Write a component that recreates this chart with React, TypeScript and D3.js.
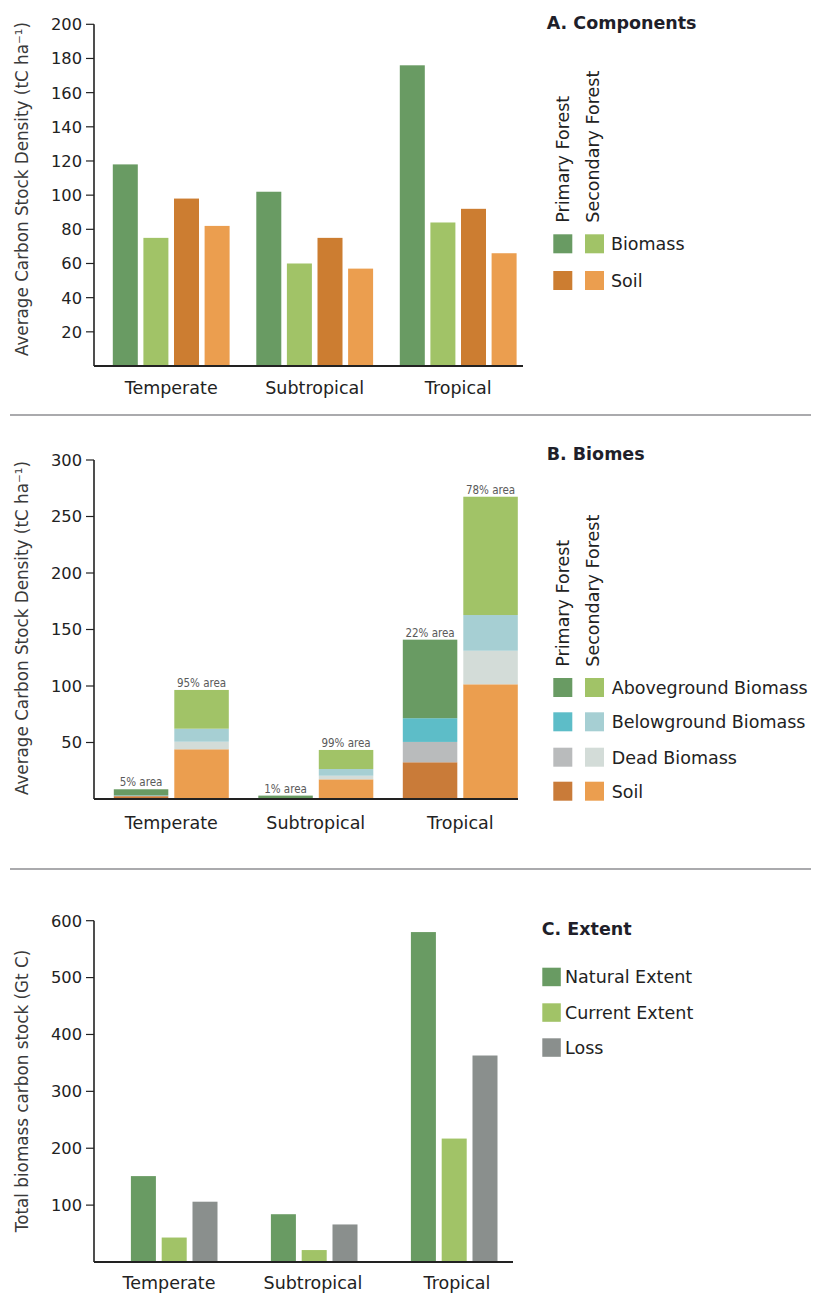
import React from "react";
import * as d3 from "d3";

const categories = ["Temperate", "Subtropical", "Tropical"];

// Panel A: components (tC/ha)
const aSeries = ["primaryBiomass", "secondaryBiomass", "primarySoil", "secondarySoil"];
const aPrimaryBiomass = [118, 102, 176];
const aSecondaryBiomass = [75, 60, 84];
const aPrimarySoil = [98, 75, 92];
const aSecondarySoil = [82, 57, 66];
const aTicks = [20, 40, 60, 80, 100, 120, 140, 160, 180, 200];

// Panel B: biomes stacked (tC/ha)
const bSeries = ["primary", "secondary"];
const bLayers = ["soil", "dead", "below", "above"];
const bPrimarySoil = [2.5, 0.3, 32.5];
const bPrimaryDead = [0.3, 0.1, 18];
const bPrimaryBelow = [0.4, 0.1, 21];
const bPrimaryAbove = [5.4, 2.5, 69.5];
const bSecondarySoil = [44, 17.4, 101.5];
const bSecondaryDead = [6.7, 3.2, 29.7];
const bSecondaryBelow = [11.5, 5.9, 31.6];
const bSecondaryAbove = [34.3, 16.9, 104.7];
const bPrimaryArea = ["5% area", "1% area", "22% area"];
const bSecondaryArea = ["95% area", "99% area", "78% area"];
const bTicks = [50, 100, 150, 200, 250, 300];

// Panel C: extent (Gt C)
const cSeries = ["natural", "current", "loss"];
const cNatural = [151, 84, 580];
const cCurrent = [43, 21, 217];
const cLoss = [106, 66, 363];
const cTicks = [100, 200, 300, 400, 500, 600];

const FONT = "'DejaVu Sans', sans-serif";
const C = {
  darkGreen: "#699b63",
  lightGreen: "#a1c367",
  darkOrange: "#cc7d31",
  lightOrange: "#eb9e4f",
  teal: "#5dbdc8",
  lightTeal: "#a6cfd3",
  grayDead: "#b9bbbc",
  lightDead: "#d3dcd8",
  soilB: "#c97b39",
  loss: "#8a8f8d",
  text: "#222",
};

const aColors: Record<string, string> = {
  primaryBiomass: C.darkGreen,
  secondaryBiomass: C.lightGreen,
  primarySoil: C.darkOrange,
  secondarySoil: C.lightOrange,
};
const bColors: Record<string, Record<string, string>> = {
  primary: { soil: C.soilB, dead: C.grayDead, below: C.teal, above: C.darkGreen },
  secondary: { soil: C.lightOrange, dead: C.lightDead, below: C.lightTeal, above: C.lightGreen },
};
const cColors: Record<string, string> = { natural: C.darkGreen, current: C.lightGreen, loss: C.loss };

function YAxis({ y, ticks, x0, top, bottom }: any) {
  return (
    <g>
      <line x1={x0} x2={x0} y1={top} y2={bottom} stroke={C.text} strokeWidth={1.6} />
      {ticks.map((t: number) => (
        <g key={t}>
          <line x1={x0 - 8} x2={x0} y1={y(t)} y2={y(t)} stroke={C.text} strokeWidth={1.2} />
          <text x={x0 - 12} y={y(t)} dy="0.36em" textAnchor="end" fontSize={16.3} fill={C.text} fontFamily={FONT}>
            {t}
          </text>
        </g>
      ))}
    </g>
  );
}

function XLabels({ x, baseline }: any) {
  return (
    <g>
      {categories.map((c) => (
        <text key={c} x={x(c) + x.bandwidth() / 2} y={baseline} textAnchor="middle" fontSize={17.5} fill={C.text} fontFamily={FONT}>
          {c}
        </text>
      ))}
    </g>
  );
}

function YTitle({ cx, cy, children }: any) {
  return (
    <text
      transform={`translate(${cx},${cy}) rotate(-90)`}
      textAnchor="middle"
      dominantBaseline="central"
      fontSize={16.8}
      fill="#3a3a3a"
      fontFamily={FONT}
    >
      {children}
    </text>
  );
}

function RotLabel({ x, y, text }: any) {
  return (
    <text transform={`translate(${x},${y}) rotate(-90)`} textAnchor="start" dominantBaseline="central" fontSize={17.5} fill={C.text} fontFamily={FONT}>
      {text}
    </text>
  );
}

function Swatch({ x, y, size, color }: any) {
  return <rect x={x} y={y} width={size} height={size} fill={color} />;
}

export default function App() {
  // ---------- Panel A ----------
  const aX0 = 94;
  const aY = d3.scaleLinear().domain([0, 200]).range([366, 24.3]);
  const aX = d3.scaleBand().domain(categories).range([99.45, 529.95]);
  const aInner = d3.scaleBand().domain(aSeries).range([-58.4, 58.4]).paddingInner(0.183);
  const aVals: Record<string, number[]> = {
    primaryBiomass: aPrimaryBiomass,
    secondaryBiomass: aSecondaryBiomass,
    primarySoil: aPrimarySoil,
    secondarySoil: aSecondarySoil,
  };

  // ---------- Panel B ----------
  const bY = d3.scaleLinear().domain([0, 300]).range([799, 460]);
  const bX = d3.scaleBand().domain(categories).range([99.05, 532.55]);
  const bInner = d3.scaleBand().domain(bSeries).range([-57.5, 57.5]).paddingInner(0.099);
  const bRows = categories.map((c, i) => ({
    cat: c,
    primary: { soil: bPrimarySoil[i], dead: bPrimaryDead[i], below: bPrimaryBelow[i], above: bPrimaryAbove[i] },
    secondary: { soil: bSecondarySoil[i], dead: bSecondaryDead[i], below: bSecondaryBelow[i], above: bSecondaryAbove[i] },
  }));
  const stack = d3.stack<any>().keys(bLayers);
  const bStacks: Record<string, any[]> = {
    primary: stack(bRows.map((r) => r.primary)),
    secondary: stack(bRows.map((r) => r.secondary)),
  };
  const bAreas: Record<string, string[]> = { primary: bPrimaryArea, secondary: bSecondaryArea };

  // ---------- Panel C ----------
  const cY = d3.scaleLinear().domain([0, 600]).range([1262, 920.7]);
  const cX = d3.scaleBand().domain(categories).range([104.2, 524.2]);
  const cInner = d3.scaleBand().domain(cSeries).range([-43.3, 43.3]).paddingInner(0.188);
  const cVals: Record<string, number[]> = { natural: cNatural, current: cCurrent, loss: cLoss };
  const cLabelX = d3.scaleBand().domain(categories).range([97, 529]);

  return (
    <div style={{ position: "absolute", left: 0, top: 0 }}>
      <svg width={813} height={1295} style={{ display: "block", background: "#fff" }}>
        {/* ===== Panel A ===== */}
        <YTitle cx={22} cy={189}>
          Average Carbon Stock Density (tC ha⁻¹)
        </YTitle>
        {categories.map((c, i) =>
          aSeries.map((s) => {
            const v = aVals[s][i];
            const cx = (aX(c) as number) + aX.bandwidth() / 2;
            return (
              <rect
                key={c + s}
                x={cx + (aInner(s) as number)}
                y={aY(v)}
                width={aInner.bandwidth()}
                height={aY(0) - aY(v)}
                fill={aColors[s]}
              />
            );
          })
        )}
        <YAxis y={aY} ticks={aTicks} x0={aX0} top={aY(200)} bottom={aY(0)} />
        <line x1={aX0} x2={523} y1={aY(0)} y2={aY(0)} stroke={C.text} strokeWidth={2} />
        <XLabels x={aX} baseline={394} />

        <text x={546.7} y={29} fontSize={17.5} fontWeight="bold" fill="#1f1f2a" fontFamily={FONT}>
          A. Components
        </text>
        <RotLabel x={562.5} y={222.7} text="Primary Forest" />
        <RotLabel x={593.3} y={222.7} text="Secondary Forest" />
        <Swatch x={553.3} y={234.3} size={19} color={C.darkGreen} />
        <Swatch x={585} y={234.3} size={19} color={C.lightGreen} />
        <text x={611} y={244} dy="0.36em" fontSize={17.5} fill={C.text} fontFamily={FONT}>
          Biomass
        </text>
        <Swatch x={553.3} y={271} size={19} color={C.darkOrange} />
        <Swatch x={585} y={271} size={19} color={C.lightOrange} />
        <text x={611} y={280.5} dy="0.36em" fontSize={17.5} fill={C.text} fontFamily={FONT}>
          Soil
        </text>

        <line x1={10} x2={811} y1={415} y2={415} stroke="#aaaaad" strokeWidth={2} />

        {/* ===== Panel B ===== */}
        <YTitle cx={22} cy={628}>
          Average Carbon Stock Density (tC ha⁻¹)
        </YTitle>
        {bSeries.map((s) =>
          bStacks[s].map((layer: any) =>
            layer.map((seg: any, i: number) => {
              const c = categories[i];
              const cx = (bX(c) as number) + bX.bandwidth() / 2;
              return (
                <rect
                  key={s + layer.key + c}
                  x={cx + (bInner(s) as number)}
                  y={bY(seg[1])}
                  width={bInner.bandwidth()}
                  height={bY(seg[0]) - bY(seg[1])}
                  fill={bColors[s][layer.key]}
                />
              );
            })
          )
        )}
        {bSeries.map((s) =>
          categories.map((c, i) => {
            const top = bStacks[s][bLayers.length - 1][i][1];
            const cx = (bX(c) as number) + bX.bandwidth() / 2 + (bInner(s) as number) + bInner.bandwidth() / 2;
            return (
              <text
                key={"lab" + s + c}
                x={cx}
                y={bY(top) - 3}
                textAnchor="middle"
                fontSize={11.5}
                fill="#5a5a5a"
                fontFamily="'DejaVu Sans Condensed', 'DejaVu Sans', sans-serif"
              >
                {bAreas[s][i]}
              </text>
            );
          })
        )}
        <YAxis y={bY} ticks={bTicks} x0={94} top={bY(300)} bottom={bY(0)} />
        <line x1={94} x2={518} y1={bY(0)} y2={bY(0)} stroke={C.text} strokeWidth={2} />
        <XLabels x={bX} baseline={829} />

        <text x={546.7} y={460} fontSize={17.5} fontWeight="bold" fill="#1f1f2a" fontFamily={FONT}>
          B. Biomes
        </text>
        <RotLabel x={562.7} y={666.7} text="Primary Forest" />
        <RotLabel x={593} y={666.7} text="Secondary Forest" />
        {[
          { label: "Aboveground Biomass", key: "above", y: 678 },
          { label: "Belowground Biomass", key: "below", y: 712.3 },
          { label: "Dead Biomass", key: "dead", y: 747.7 },
          { label: "Soil", key: "soil", y: 781.7 },
        ].map((r) => (
          <g key={r.key}>
            <Swatch x={553.3} y={r.y} size={19} color={bColors.primary[r.key]} />
            <Swatch x={585} y={r.y} size={19} color={bColors.secondary[r.key]} />
            <text x={611.7} y={r.y + 9.5} dy="0.36em" fontSize={17.5} fill={C.text} fontFamily={FONT}>
              {r.label}
            </text>
          </g>
        ))}

        <line x1={10} x2={811} y1={869} y2={869} stroke="#aaaaad" strokeWidth={2} />

        {/* ===== Panel C ===== */}
        <YTitle cx={22} cy={1091}>
          Total biomass carbon stock (Gt C)
        </YTitle>
        {categories.map((c, i) =>
          cSeries.map((s) => {
            const v = cVals[s][i];
            const cx = (cX(c) as number) + cX.bandwidth() / 2;
            return (
              <rect
                key={c + s}
                x={cx + (cInner(s) as number)}
                y={cY(v)}
                width={cInner.bandwidth()}
                height={cY(0) - cY(v)}
                fill={cColors[s]}
              />
            );
          })
        )}
        <YAxis y={cY} ticks={cTicks} x0={94} top={cY(600)} bottom={cY(0)} />
        <line x1={94} x2={513} y1={cY(0)} y2={cY(0)} stroke={C.text} strokeWidth={2} />
        <XLabels x={cLabelX} baseline={1289} />

        <text x={541.7} y={935} fontSize={17.5} fontWeight="bold" fill="#1f1f2a" fontFamily={FONT}>
          C. Extent
        </text>
        {[
          { label: "Natural Extent", key: "natural", y: 967.7 },
          { label: "Current Extent", key: "current", y: 1003.3 },
          { label: "Loss", key: "loss", y: 1038.3 },
        ].map((r) => (
          <g key={r.key}>
            <Swatch x={542.3} y={r.y} size={18.5} color={cColors[r.key]} />
            <text x={565} y={r.y + 9.3} dy="0.36em" fontSize={17.5} fill={C.text} fontFamily={FONT}>
              {r.label}
            </text>
          </g>
        ))}
      </svg>
    </div>
  );
}
